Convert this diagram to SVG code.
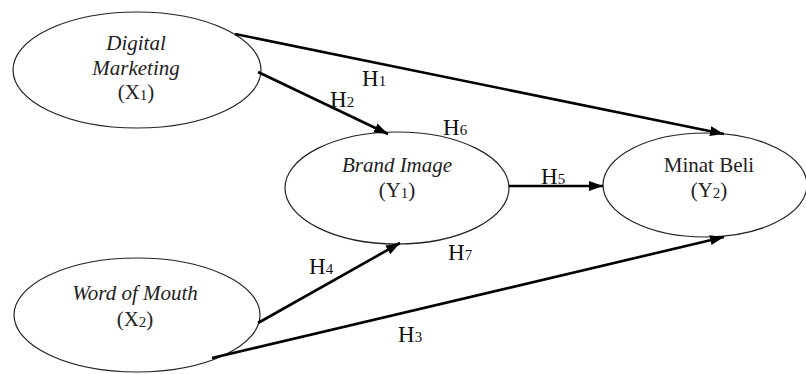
<svg xmlns="http://www.w3.org/2000/svg" width="806" height="374" viewBox="0 0 806 374" font-family="'Liberation Serif', 'Times New Roman', 'DejaVu Serif', serif">
<style>
.node ellipse{fill:#fff;stroke:#222;stroke-width:1.2}
.t{font-size:21px;fill:#222;text-anchor:middle}
.i{font-style:italic}
.h{font-size:23px;fill:#111}
.sub{font-size:15px}
.conn line{stroke:#000;stroke-width:2.6;marker-end:url(#ah)}
</style>
<defs>
<marker id="ah" markerUnits="userSpaceOnUse" markerWidth="16" markerHeight="12" refX="14" refY="5" orient="auto">
<path d="M0,0 L14,5 L0,10 z" fill="#000"/>
</marker>
</defs>
<rect width="806" height="374" fill="#fff"/>
<g id="dm" class="node">
<ellipse cx="137" cy="70" rx="124" ry="58"/>
<text class="t i" x="136" y="50">Digital</text>
<text class="t i" x="136" y="75">Marketing</text>
<text class="t" x="136" y="99">(X<tspan class="sub" dy="1">1</tspan><tspan dy="-1">)</tspan></text>
</g>
<g id="bi" class="node">
<ellipse cx="397" cy="188" rx="112" ry="56"/>
<text class="t i" x="397" y="172">Brand Image</text>
<text class="t" x="397" y="197">(Y<tspan class="sub" dy="1">1</tspan><tspan dy="-1">)</tspan></text>
</g>
<g id="mb" class="node">
<ellipse cx="705" cy="185" rx="102" ry="52"/>
<text class="t" x="709" y="172">Minat Beli</text>
<text class="t" x="709" y="197">(Y<tspan class="sub" dy="1">2</tspan><tspan dy="-1">)</tspan></text>
</g>
<g id="wom" class="node">
<ellipse cx="137" cy="315" rx="123" ry="57"/>
<text class="t i" x="135" y="300">Word of Mouth</text>
<text class="t" x="135" y="326">(X<tspan class="sub" dy="1">2</tspan><tspan dy="-1">)</tspan></text>
</g>
<g id="connectors" class="conn">
<line x1="235" y1="34" x2="724" y2="134"/>
<line x1="258" y1="72" x2="388" y2="134"/>
<line x1="509" y1="186" x2="603" y2="186"/>
<line x1="258" y1="323" x2="400" y2="243"/>
<line x1="212" y1="358" x2="724" y2="237"/>
</g>
<g id="labels">
<text class="h" x="362" y="86">H<tspan class="sub">1</tspan></text>
<text class="h" x="330" y="107">H<tspan class="sub">2</tspan></text>
<text class="h" x="443" y="135">H<tspan class="sub">6</tspan></text>
<text class="h" x="541" y="184">H<tspan class="sub">5</tspan></text>
<text class="h" x="309" y="274">H<tspan class="sub">4</tspan></text>
<text class="h" x="448" y="260">H<tspan class="sub">7</tspan></text>
<text class="h" x="398" y="342">H<tspan class="sub">3</tspan></text>
</g>
</svg>
